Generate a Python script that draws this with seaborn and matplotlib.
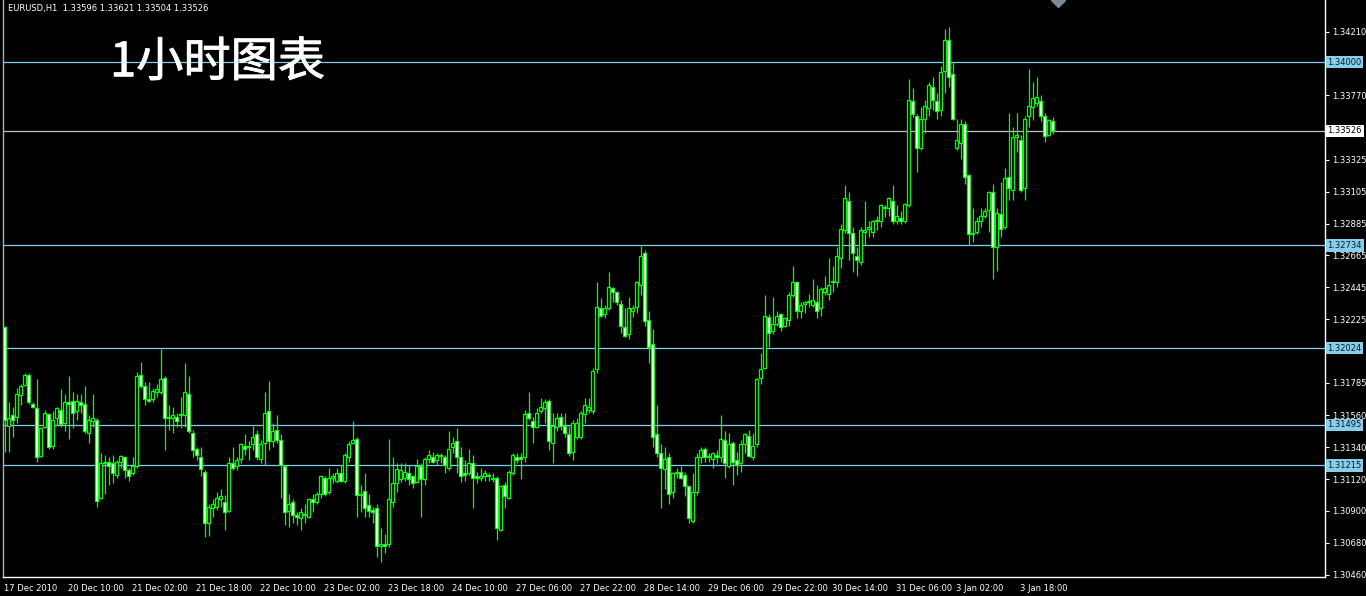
import numpy as np
import matplotlib
matplotlib.use('Agg')
import matplotlib.pyplot as plt
import matplotlib.patheffects as pe
import seaborn as sns
from matplotlib.transforms import blended_transform_factory

# EURUSD H1 candles, 17 Dec 2010 18:00 -> 4 Jan 2011 02:00
opens = [
    1.3217, 1.3149, 1.3156, 1.3155, 1.3170, 1.3177, 1.3184, 1.3164, 1.3161, 1.3128,
    1.3148, 1.3157, 1.3135, 1.3154, 1.3160, 1.3151, 1.3165, 1.3166, 1.3159, 1.3165,
    1.3164, 1.3144, 1.3152, 1.3153, 1.3099, 1.3123, 1.3124, 1.3123, 1.3115, 1.3124,
    1.3127, 1.3118, 1.3116, 1.3121, 1.3184, 1.3176, 1.3167, 1.3167, 1.3172, 1.3172,
    1.3182, 1.3154, 1.3154, 1.3155, 1.3156, 1.3156, 1.3171, 1.3144, 1.3133, 1.3127,
    1.3117, 1.3082, 1.3092, 1.3093, 1.3098, 1.3096, 1.3090, 1.3123, 1.3121, 1.3126,
    1.3135, 1.3134, 1.3136, 1.3143, 1.3126, 1.3137, 1.3159, 1.3138, 1.3146, 1.3139,
    1.3121, 1.3090, 1.3096, 1.3087, 1.3085, 1.3087, 1.3086, 1.3098, 1.3096, 1.3102,
    1.3113, 1.3103, 1.3113, 1.3111, 1.3116, 1.3111, 1.3127, 1.3137, 1.3140, 1.3101,
    1.3104, 1.3094, 1.3091, 1.3092, 1.3066, 1.3067, 1.3067, 1.3096, 1.3109, 1.3112,
    1.3113, 1.3116, 1.3114, 1.3110, 1.3121, 1.3112, 1.3126, 1.3127, 1.3125, 1.3128,
    1.3127, 1.3120, 1.3134, 1.3138, 1.3127, 1.3116, 1.3116, 1.3123, 1.3114, 1.3113,
    1.3114, 1.3115, 1.3113, 1.3113, 1.3077, 1.3108, 1.3099, 1.3116, 1.3127, 1.3127,
    1.3127, 1.3158, 1.3152, 1.3148, 1.3159, 1.3161, 1.3166, 1.3137, 1.3148, 1.3155,
    1.3149, 1.3143, 1.3131, 1.3141, 1.3141, 1.3157, 1.3160, 1.3159, 1.3188, 1.3230,
    1.3226, 1.3230, 1.3244, 1.3241, 1.3233, 1.3217, 1.3212, 1.3228, 1.3231, 1.3246,
    1.3268, 1.3222, 1.3205, 1.3143, 1.3130, 1.3119, 1.3127, 1.3103, 1.3117, 1.3117,
    1.3115, 1.3107, 1.3083, 1.3103, 1.3127, 1.3133, 1.3128, 1.3126, 1.3129, 1.3127,
    1.3139, 1.3121, 1.3137, 1.3125, 1.3123, 1.3136, 1.3142, 1.3127, 1.3136, 1.3182,
    1.3189, 1.3224, 1.3214, 1.3219, 1.3226, 1.3218, 1.3222, 1.3239, 1.3248, 1.3228,
    1.3233, 1.3234, 1.3232, 1.3234, 1.3230, 1.3241, 1.3240, 1.3248, 1.3248, 1.3265,
    1.3284, 1.3304, 1.3282, 1.3266, 1.3262, 1.3283, 1.3285, 1.3283, 1.3290, 1.3290,
    1.3300, 1.3299, 1.3304, 1.3290, 1.3292, 1.3290, 1.3301, 1.3373, 1.3363, 1.3341,
    1.3361, 1.3368, 1.3383, 1.3373, 1.3367, 1.3394, 1.3415, 1.3392, 1.3341, 1.3344,
    1.3357, 1.3322, 1.3282, 1.3283, 1.3290, 1.3294, 1.3298, 1.3310, 1.3272, 1.3295,
    1.3286, 1.3321, 1.3312, 1.3348, 1.3346, 1.3313, 1.3363, 1.3369, 1.3372, 1.3373,
    1.3363, 1.3350, 1.33596,
]
highs = [
    1.3218, 1.3165, 1.3162, 1.3175, 1.3178, 1.3185, 1.3185, 1.3165, 1.3181, 1.3148,
    1.3160, 1.3158, 1.3159, 1.3162, 1.3174, 1.3171, 1.3183, 1.3172, 1.3171, 1.3171,
    1.3176, 1.3156, 1.3171, 1.3154, 1.3130, 1.3129, 1.3127, 1.3129, 1.3125, 1.3129,
    1.3128, 1.3120, 1.3127, 1.3186, 1.3193, 1.3179, 1.3179, 1.3175, 1.3178, 1.3202,
    1.3183, 1.3163, 1.3162, 1.3158, 1.3169, 1.3192, 1.3183, 1.3146, 1.3134, 1.3134,
    1.3118, 1.3095, 1.3098, 1.3103, 1.3105, 1.3101, 1.3127, 1.3134, 1.3127, 1.3137,
    1.3143, 1.3138, 1.3149, 1.3146, 1.3139, 1.3172, 1.3180, 1.3151, 1.3156, 1.3143,
    1.3122, 1.3102, 1.3098, 1.3089, 1.3092, 1.3095, 1.3099, 1.3102, 1.3103, 1.3115,
    1.3114, 1.3120, 1.3116, 1.3120, 1.3122, 1.3130, 1.3138, 1.3152, 1.3141, 1.3108,
    1.3116, 1.3102, 1.3093, 1.3095, 1.3078, 1.3074, 1.3140, 1.3127, 1.3123, 1.3123,
    1.3123, 1.3122, 1.3115, 1.3126, 1.3123, 1.3127, 1.3132, 1.3131, 1.3130, 1.3130,
    1.3129, 1.3145, 1.3141, 1.3147, 1.3134, 1.3125, 1.3133, 1.3129, 1.3117, 1.3120,
    1.3118, 1.3116, 1.3116, 1.3114, 1.3108, 1.3110, 1.3118, 1.3130, 1.3130, 1.3130,
    1.3160, 1.3172, 1.3155, 1.3161, 1.3168, 1.3167, 1.3167, 1.3158, 1.3158, 1.3158,
    1.3158, 1.3149, 1.3153, 1.3154, 1.3159, 1.3168, 1.3168, 1.3189, 1.3248, 1.3237,
    1.3232, 1.3255, 1.3245, 1.3242, 1.3236, 1.3230, 1.3238, 1.3232, 1.3249, 1.3273,
    1.3270, 1.3228, 1.3216, 1.3163, 1.3136, 1.3134, 1.3130, 1.3117, 1.3120, 1.3121,
    1.3117, 1.3108, 1.3116, 1.3130, 1.3134, 1.3134, 1.3130, 1.3131, 1.3132, 1.3156,
    1.3145, 1.3144, 1.3138, 1.3131, 1.3139, 1.3144, 1.3146, 1.3144, 1.3182, 1.3199,
    1.3239, 1.3226, 1.3238, 1.3228, 1.3227, 1.3224, 1.3241, 1.3259, 1.3249, 1.3234,
    1.3235, 1.3240, 1.3250, 1.3246, 1.3245, 1.3252, 1.3265, 1.3259, 1.3272, 1.3288,
    1.3315, 1.3310, 1.3286, 1.3272, 1.3286, 1.3304, 1.3290, 1.3291, 1.3294, 1.3302,
    1.3301, 1.3307, 1.3315, 1.3301, 1.3297, 1.3303, 1.3388, 1.3382, 1.3364, 1.3369,
    1.3374, 1.3386, 1.3390, 1.3379, 1.3397, 1.3423, 1.3424, 1.3400, 1.3361, 1.3361,
    1.3359, 1.3323, 1.3299, 1.3293, 1.3299, 1.3299, 1.3311, 1.3316, 1.3299, 1.3317,
    1.3327, 1.3365, 1.3355, 1.3365, 1.3350, 1.3363, 1.3395, 1.3386, 1.3390, 1.3377,
    1.3365, 1.3361, 1.33621,
]
lows = [
    1.3131, 1.3131, 1.3141, 1.3151, 1.3163, 1.3176, 1.3164, 1.3161, 1.3124, 1.3127,
    1.3147, 1.3133, 1.3133, 1.3149, 1.3148, 1.3145, 1.3140, 1.3147, 1.3153, 1.3158,
    1.3144, 1.3137, 1.3148, 1.3093, 1.3098, 1.3102, 1.3108, 1.3109, 1.3113, 1.3120,
    1.3113, 1.3111, 1.3115, 1.3120, 1.3175, 1.3163, 1.3165, 1.3165, 1.3169, 1.3171,
    1.3132, 1.3146, 1.3144, 1.3148, 1.3147, 1.3148, 1.3144, 1.3127, 1.3125, 1.3114,
    1.3072, 1.3073, 1.3086, 1.3091, 1.3093, 1.3077, 1.3089, 1.3118, 1.3118, 1.3123,
    1.3129, 1.3125, 1.3132, 1.3125, 1.3123, 1.3122, 1.3132, 1.3134, 1.3137, 1.3099,
    1.3080, 1.3079, 1.3082, 1.3080, 1.3077, 1.3082, 1.3085, 1.3089, 1.3095, 1.3099,
    1.3100, 1.3102, 1.3109, 1.3109, 1.3110, 1.3109, 1.3124, 1.3136, 1.3086, 1.3089,
    1.3086, 1.3086, 1.3082, 1.3058, 1.3055, 1.3061, 1.3065, 1.3093, 1.3103, 1.3110,
    1.3111, 1.3108, 1.3106, 1.3109, 1.3086, 1.3108, 1.3123, 1.3123, 1.3122, 1.3123,
    1.3116, 1.3118, 1.3130, 1.3116, 1.3110, 1.3111, 1.3115, 1.3092, 1.3109, 1.3111,
    1.3111, 1.3111, 1.3110, 1.3070, 1.3076, 1.3092, 1.3098, 1.3115, 1.3123, 1.3112,
    1.3124, 1.3153, 1.3137, 1.3147, 1.3158, 1.3151, 1.3132, 1.3123, 1.3145, 1.3146,
    1.3141, 1.3128, 1.3125, 1.3140, 1.3140, 1.3151, 1.3158, 1.3157, 1.3185, 1.3224,
    1.3223, 1.3229, 1.3234, 1.3232, 1.3213, 1.3210, 1.3209, 1.3224, 1.3227, 1.3239,
    1.3218, 1.3192, 1.3134, 1.3127, 1.3092, 1.3105, 1.3095, 1.3099, 1.3113, 1.3112,
    1.3100, 1.3082, 1.3082, 1.3101, 1.3123, 1.3124, 1.3124, 1.3120, 1.3123, 1.3124,
    1.3113, 1.3120, 1.3108, 1.3115, 1.3117, 1.3130, 1.3127, 1.3125, 1.3134, 1.3178,
    1.3188, 1.3203, 1.3212, 1.3218, 1.3214, 1.3217, 1.3218, 1.3238, 1.3223, 1.3223,
    1.3227, 1.3231, 1.3231, 1.3223, 1.3225, 1.3239, 1.3236, 1.3241, 1.3245, 1.3258,
    1.3282, 1.3263, 1.3255, 1.3252, 1.3260, 1.3274, 1.3279, 1.3279, 1.3284, 1.3286,
    1.3293, 1.3294, 1.3288, 1.3288, 1.3288, 1.3289, 1.3300, 1.3362, 1.3324, 1.3339,
    1.3351, 1.3363, 1.3367, 1.3361, 1.3363, 1.3379, 1.3383, 1.3360, 1.3339, 1.3333,
    1.3316, 1.3274, 1.3276, 1.3281, 1.3286, 1.3292, 1.3283, 1.3250, 1.3256, 1.3279,
    1.3285, 1.3305, 1.3305, 1.3338, 1.3310, 1.3305, 1.3355, 1.3360, 1.3370, 1.3359,
    1.3345, 1.3349, 1.33504,
]
closes = [
    1.3153, 1.3154, 1.3153, 1.3171, 1.3176, 1.3184, 1.3165, 1.3162, 1.3127, 1.3147,
    1.3158, 1.3134, 1.3153, 1.3161, 1.3150, 1.3165, 1.3164, 1.3158, 1.3166, 1.3163,
    1.3145, 1.3153, 1.3154, 1.3097, 1.3123, 1.3124, 1.3121, 1.3116, 1.3124, 1.3128,
    1.3118, 1.3114, 1.3121, 1.3183, 1.3176, 1.3167, 1.3166, 1.3173, 1.3174, 1.3181,
    1.3154, 1.3155, 1.3156, 1.3152, 1.3157, 1.3172, 1.3145, 1.3132, 1.3129, 1.3119,
    1.3082, 1.3093, 1.3095, 1.3099, 1.3100, 1.3089, 1.3123, 1.3120, 1.3125, 1.3136,
    1.3133, 1.3135, 1.3141, 1.3127, 1.3136, 1.3158, 1.3138, 1.3145, 1.3139, 1.3122,
    1.3089, 1.3095, 1.3087, 1.3086, 1.3089, 1.3088, 1.3098, 1.3096, 1.3102, 1.3114,
    1.3102, 1.3113, 1.3114, 1.3116, 1.3111, 1.3129, 1.3136, 1.3139, 1.3101, 1.3102,
    1.3092, 1.3090, 1.3089, 1.3066, 1.3067, 1.3066, 1.3098, 1.3109, 1.3119, 1.3118,
    1.3117, 1.3112, 1.3109, 1.3121, 1.3112, 1.3126, 1.3129, 1.3124, 1.3129, 1.3129,
    1.3122, 1.3133, 1.3137, 1.3127, 1.3114, 1.3115, 1.3123, 1.3113, 1.3113, 1.3114,
    1.3116, 1.3114, 1.3112, 1.3078, 1.3107, 1.3100, 1.3117, 1.3129, 1.3125, 1.3126,
    1.3157, 1.3154, 1.3148, 1.3158, 1.3162, 1.3165, 1.3138, 1.3149, 1.3154, 1.3149,
    1.3144, 1.3130, 1.3151, 1.3151, 1.3158, 1.3163, 1.3162, 1.3187, 1.3231, 1.3225,
    1.3230, 1.3245, 1.3241, 1.3234, 1.3218, 1.3211, 1.3230, 1.3230, 1.3248, 1.3266,
    1.3221, 1.3203, 1.3141, 1.3130, 1.3120, 1.3126, 1.3102, 1.3116, 1.3116, 1.3113,
    1.3107, 1.3085, 1.3103, 1.3127, 1.3132, 1.3127, 1.3127, 1.3130, 1.3127, 1.3140,
    1.3123, 1.3136, 1.3124, 1.3122, 1.3136, 1.3143, 1.3128, 1.3135, 1.3181, 1.3188,
    1.3225, 1.3213, 1.3219, 1.3225, 1.3217, 1.3223, 1.3239, 1.3248, 1.3228, 1.3232,
    1.3234, 1.3235, 1.3236, 1.3228, 1.3243, 1.3244, 1.3246, 1.3249, 1.3266, 1.3285,
    1.3306, 1.3282, 1.3268, 1.3263, 1.3284, 1.3284, 1.3286, 1.3290, 1.3291, 1.3301,
    1.3299, 1.3306, 1.3290, 1.3294, 1.3290, 1.3302, 1.3374, 1.3364, 1.3341, 1.3361,
    1.3370, 1.3384, 1.3374, 1.3366, 1.3393, 1.3415, 1.3390, 1.3361, 1.3346, 1.3357,
    1.3321, 1.3281, 1.3281, 1.3290, 1.3294, 1.3297, 1.3310, 1.3272, 1.3296, 1.3285,
    1.3320, 1.3313, 1.3348, 1.3350, 1.3312, 1.3361, 1.3370, 1.3375, 1.3376, 1.3363,
    1.3349, 1.3360, 1.33526,
]

# time axis labels and the bar they sit on
tick_bars = [0, 16, 32, 48, 64, 80, 96, 112, 128, 144, 160, 176, 192, 207, 223, 238, 254]
tick_labels = ['17 Dec 2010', '20 Dec 10:00', '21 Dec 02:00', '21 Dec 18:00', '22 Dec 10:00',
               '23 Dec 02:00', '23 Dec 18:00', '24 Dec 10:00', '27 Dec 06:00', '27 Dec 22:00',
               '28 Dec 14:00', '29 Dec 06:00', '29 Dec 22:00', '30 Dec 14:00', '31 Dec 06:00',
               '3 Jan 02:00', '3 Jan 18:00']

# price scale and horizontal levels
price_ticks = [1.34210, 1.33770, 1.33325, 1.33105, 1.32885, 1.32665, 1.32445, 1.32225,
               1.31785, 1.31560, 1.31340, 1.31120, 1.30900, 1.30680, 1.30460]
levels = [1.34000, 1.32734, 1.32024, 1.31495, 1.31215]
last_price = 1.33526

W, H = 1366, 596
GREEN = '#00ff00'
LEVEL_BLUE = '#87ceeb'

sns.set_theme(style='dark', rc={'axes.facecolor': 'black', 'figure.facecolor': 'black',
                                'axes.grid': False})
plt.rcParams['font.family'] = ['DejaVu Sans', 'Noto Sans CJK SC']

fig = plt.figure(figsize=(W / 100, H / 100), dpi=100, facecolor='black')
ax = fig.add_axes([3 / W, 19 / H, (1325 - 3) / W, 577 / H])
ax.set_facecolor('black')

o = np.array(opens)
h = np.array(highs)
l = np.array(lows)
c = np.array(closes)
idx = np.arange(len(o))

# wicks first, bodies on top (bull = black body, bear = white body)
ax.vlines(idx, np.minimum(l, np.minimum(o, c)), np.maximum(h, np.maximum(o, c)),
          colors=GREEN, linewidth=0.9, zorder=2)
faces = np.where(c >= o, 'black', 'white')
ax.bar(idx, np.abs(c - o), bottom=np.minimum(o, c), width=0.62, color=faces,
       edgecolor=GREEN, linewidth=0.9, zorder=3)

# horizontal levels with their price boxes on the scale
trans = blended_transform_factory(ax.transAxes, ax.transData)
for lvl in levels:
    ax.axhline(lvl, color=LEVEL_BLUE, linewidth=0.9, zorder=1)
    ax.text(1.0018, lvl, f'{lvl:.5f}', transform=trans, fontsize=6, color='#0a1a2a',
            va='center', ha='left', clip_on=False, zorder=5,
            bbox=dict(boxstyle='square,pad=0.2', fc=LEVEL_BLUE, ec='none'))
ax.axhline(last_price, color='#c0c0c0', linewidth=0.9, zorder=1)
ax.text(1.0018, last_price, f'{last_price:.5f}', transform=trans, fontsize=6, color='black',
        va='center', ha='left', clip_on=False, zorder=5,
        bbox=dict(boxstyle='square,pad=0.2', fc='white', ec='none'))

# chart shift marker at the top
ax.plot([263.4], [1.34429], marker='D', ms=7, color='#7d8894', zorder=4)

ax.set_xlim(-0.375, 330.125)
ax.set_ylim(1.30444, 1.34429)

ax.yaxis.tick_right()
ax.set_yticks(price_ticks)
ax.set_yticklabels([f'{t:.5f}' for t in price_ticks])
ax.tick_params(axis='y', colors='white', labelsize=6, length=3, width=0.8, pad=2,
               direction='out', labelcolor='white')

ax.set_xticks(tick_bars)
ax.set_xticklabels(tick_labels, ha='left')
ax.tick_params(axis='x', colors='white', labelsize=6, length=3, width=0.8, pad=2,
               direction='out', labelcolor='white')

ax.spines['top'].set_visible(False)
ax.spines['left'].set_color('#b0b0b0')
ax.spines['right'].set_color('white')
ax.spines['bottom'].set_color('white')
for side in ['left', 'right', 'bottom']:
    ax.spines[side].set_linewidth(1.0)

fig.text(8 / W, 1 - 8 / H, 'EURUSD,H1  1.33596 1.33621 1.33504 1.33526',
         color='white', fontsize=6, va='center', ha='left')
# regular weight with a thin stroke, closer to the medium weight of the original
fig.text(110 / W, 1 - 63 / H, '1小时图表', color='white', fontsize=34,
         family=['Noto Sans CJK SC', 'DejaVu Sans'], va='center', ha='left',
         path_effects=[pe.withStroke(linewidth=0.6, foreground='white')])

fig.savefig('out.png', dpi=100, facecolor='black')
